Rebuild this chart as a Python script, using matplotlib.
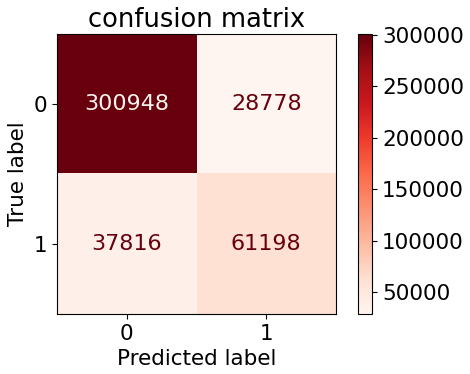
import numpy as np
import matplotlib.pyplot as plt

# confusion matrix values
labels = ["0", "1"]
cm = np.array([[300948, 28778],
               [37816, 61198]])
cbar_ticks = [50000, 100000, 150000, 200000, 250000, 300000]

plt.rcParams["font.size"] = 15.5

fig = plt.figure(figsize=(4.7, 3.74), dpi=100)
ax = fig.add_axes([0.121, 0.160, 0.594, 0.749])
cax = fig.add_axes([0.762, 0.160, 0.030, 0.749])

cmap = plt.get_cmap("Reds")
im = ax.imshow(cm, cmap=cmap, vmin=cm.min(), vmax=cm.max(), aspect="auto")

thresh = (cm.max() + cm.min()) / 2.0
for i in range(cm.shape[0]):
    for j in range(cm.shape[1]):
        color = cmap(0.0) if cm[i, j] > thresh else cmap(1.0)
        ax.text(j, i, str(cm[i, j]), ha="center", va="center",
                color=color, fontsize=16)

ax.set_xticks(range(len(labels)))
ax.set_xticklabels(labels)
ax.set_yticks(range(len(labels)))
ax.set_yticklabels(labels)
ax.set_xlabel("Predicted label", fontsize=15.5)
ax.set_ylabel("True label", fontsize=15.5)
ax.set_title("confusion matrix", fontsize=18.5, pad=5)

cb = fig.colorbar(im, cax=cax)
cb.set_ticks(cbar_ticks)

fig.savefig("out.png", dpi=100)
